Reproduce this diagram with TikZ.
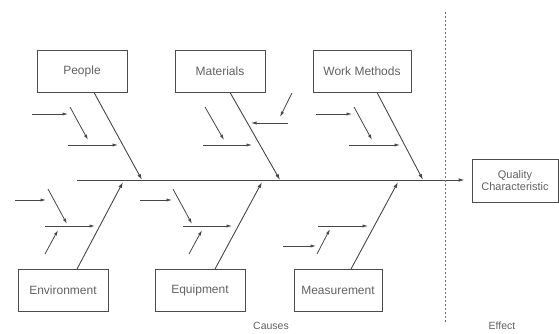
\documentclass[tikz,border=0pt]{standalone}
\usepackage{fontspec}
\setmainfont{Liberation Sans}
\usetikzlibrary{arrows.meta}

\tikzset{
  catbox/.style={draw=black!70, line width=0.9pt, minimum width=90pt, minimum height=42pt,
    inner sep=0pt, text=black!62, font=\fontsize{12}{14}\selectfont, align=center},
  bone/.style={draw=black!72, line width=0.9pt, -{Latex[length=6pt,width=3.6pt]}},
  twig/.style={draw=black!72, line width=0.8pt, -{Latex[length=5.5pt,width=3.2pt]}},
  tag/.style={text=black!62, font=\fontsize{10.5}{12}\selectfont}
}

\begin{document}
\begin{tikzpicture}[x=1pt, y=-1pt]
            \useasboundingbox (0,0) rectangle (559,334);

            % Category boxes
            \node[catbox] (people) at (82,71) {People};
            \node[catbox] (materials) at (220,71) {Materials};
            \node[catbox, minimum width=98pt] (methods) at (362,71) {Work Methods};
            \node[catbox] (environment) at (63,290.5) {Environment};
            \node[catbox] (equipment) at (200,290.5) {Equipment};
            \node[catbox, minimum width=88pt] (measurement) at (338,290.5) {Measurement};
            \node[catbox, minimum width=86pt, minimum height=43pt, font=\fontsize{11}{12}\selectfont] (quality) at (515,180.5) {Quality\\Characteristic};

            % Spine and divider
            \coordinate (tail) at (77,180);
            \draw[bone, shorten >=7pt] (tail) -- (tail -| quality.west);
            \coordinate (divtop) at (445,12);
            \coordinate (divbot) at (445,323);
            \draw[black!55, line width=0.9pt, dash pattern=on 2pt off 2pt] (divtop) -- (divbot);

            % Main bones
            \coordinate (s1) at (142,180);
            \coordinate (s2) at (280,180);
            \coordinate (s3) at (423,180);
            \coordinate (s4) at (123,182);
            \coordinate (s5) at (262,182);
            \coordinate (s6) at (398,182);
            \draw[bone] ([xshift=12pt]people.south) -- (s1);
            \draw[bone] ([xshift=10pt]materials.south) -- (s2);
            \draw[bone] ([xshift=15pt]methods.south) -- (s3);
            \draw[bone] ([xshift=14pt]environment.north) -- (s4);
            \draw[bone] ([xshift=15pt]equipment.north) -- (s5);
            \draw[bone] ([xshift=13pt]measurement.north) -- (s6);

            % People twigs
            \coordinate (pa) at (32,114);   \coordinate (pb) at (68,114);
            \coordinate (pc) at (70,107);   \coordinate (pd) at (88,140);
            \coordinate (pe) at (68,145);   \coordinate (pf) at (118,145);
            \draw[twig] (pa) -- (pb);
            \draw[twig] (pc) -- (pd);
            \draw[twig] (pe) -- (pf);

            % Materials twigs
            \coordinate (ma) at (205,107);  \coordinate (mb) at (224,140);
            \coordinate (mc) at (203,145);  \coordinate (md) at (252,145);
            \coordinate (me) at (292,93);   \coordinate (mf) at (280,117);
            \coordinate (mg) at (288,123);  \coordinate (mh) at (251,123);
            \draw[twig] (ma) -- (mb);
            \draw[twig] (mc) -- (md);
            \draw[twig] (me) -- (mf);
            \draw[twig] (mg) -- (mh);

            % Work Methods twigs
            \coordinate (wa) at (316,114);  \coordinate (wb) at (352,114);
            \coordinate (wc) at (354,107);  \coordinate (wd) at (372,140);
            \coordinate (we) at (349,145);  \coordinate (wf) at (400,145);
            \draw[twig] (wa) -- (wb);
            \draw[twig] (wc) -- (wd);
            \draw[twig] (we) -- (wf);

            % Environment twigs
            \coordinate (ea) at (15,200);   \coordinate (eb) at (46,200);
            \coordinate (ec) at (48,189);   \coordinate (ed) at (67,224);
            \coordinate (ee) at (45,226);   \coordinate (ef) at (95,226);
            \coordinate (eg) at (45,254);   \coordinate (eh) at (58,230);
            \draw[twig] (ea) -- (eb);
            \draw[twig] (ec) -- (ed);
            \draw[twig] (ee) -- (ef);
            \draw[twig] (eg) -- (eh);

            % Equipment twigs
            \coordinate (qa) at (140,200);  \coordinate (qb) at (172,200);
            \coordinate (qc) at (173,189);  \coordinate (qd) at (192,224);
            \coordinate (qe) at (183,226);  \coordinate (qf) at (232,226);
            \coordinate (qg) at (189,254);  \coordinate (qh) at (202,230);
            \draw[twig] (qa) -- (qb);
            \draw[twig] (qc) -- (qd);
            \draw[twig] (qe) -- (qf);
            \draw[twig] (qg) -- (qh);

            % Measurement twigs
            \coordinate (ra) at (318,226);  \coordinate (rb) at (368,226);
            \coordinate (rc) at (317,254);  \coordinate (rd) at (330,229);
            \coordinate (re) at (283,246);  \coordinate (rf) at (316,246);
            \draw[twig] (ra) -- (rb);
            \draw[twig] (rc) -- (rd);
            \draw[twig] (re) -- (rf);

            % Captions
            \node[tag] (causes) at (271,326) {Causes};
            \node[tag] (effect) at (502,326) {Effect};

        \end{tikzpicture}
\end{document}
